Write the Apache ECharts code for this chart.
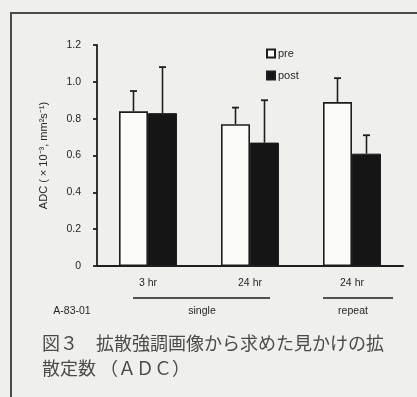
<!DOCTYPE html>
<html>
<head>
<meta charset="utf-8">
<script src="https://cdn.jsdelivr.net/npm/echarts@6/dist/echarts.min.js"></script>
<style>
  html, body { margin: 0; padding: 0; background: #efefeb; }
  #chart { width: 417px; height: 397px; }
</style>
</head>
<body>
<div id="chart"></div>
<script>
// ADC before and after A-83-01 administration
const categories = ['3 hr', '24 hr', '24 hr'];
const preValues = [0.84, 0.77, 0.89];
const preErrors = [0.11, 0.09, 0.13];
const postValues = [0.83, 0.67, 0.61];
const postErrors = [0.25, 0.23, 0.10];
const yTicks = [0, 0.2, 0.4, 0.6, 0.8, 1.0, 1.2];

const BAR_W = 29;
const INK = '#1e1e1e';
const TEXT = '#262626';
const SANS = 'Liberation Sans, Arial, sans-serif';

function errorSeries(name, values, errors, side) {
  return {
    type: 'custom',
    name: name + '-err',
    z: 5,
    data: values.map((v, i) => [i, v, v + errors[i]]),
    renderItem: function (params, api) {
      const base = api.coord([api.value(0), api.value(1)]);
      const top = api.coord([api.value(0), api.value(2)]);
      const x = base[0] + side * BAR_W / 2;
      const cap = 3.5;
      return {
        type: 'group',
        children: [
          { type: 'line', shape: { x1: x, y1: base[1], x2: x, y2: top[1] },
            style: { stroke: INK, lineWidth: 1.6 } },
          { type: 'line', shape: { x1: x - cap, y1: top[1], x2: x + cap, y2: top[1] },
            style: { stroke: INK, lineWidth: 1.8 } }
        ]
      };
    }
  };
}

function label(text, x, y) {
  return { type: 'text', x: x, y: y, style: { text: text, fill: TEXT, fontSize: 10.5,
    align: 'center', verticalAlign: 'middle', fontFamily: SANS } };
}

const chart = echarts.init(document.getElementById('chart'));
chart.setOption({
  backgroundColor: '#efefeb',
  animation: false,
  textStyle: { fontFamily: SANS },
  grid: { left: 97, right: 14, top: 45, bottom: 131 },
  legend: {
    data: ['pre', 'post'],
    orient: 'vertical',
    left: 261,
    top: 43,
    itemWidth: 8,
    itemHeight: 8,
    itemGap: 11,
    icon: 'rect',
    textStyle: { color: TEXT, fontSize: 11, padding: [0, 0, 0, -2] }
  },
  xAxis: {
    type: 'category',
    data: categories,
    axisLine: { lineStyle: { color: INK, width: 1.8 } },
    axisTick: { show: false },
    axisLabel: { color: TEXT, fontSize: 10.5, margin: 12 }
  },
  yAxis: {
    type: 'value',
    min: 0,
    max: 1.2,
    interval: 0.2,
    name: 'ADC ( \u00d7 10\u207b\u00b3, mm\u00b2s\u207b\u00b9)',
    nameLocation: 'middle',
    nameGap: 48,
    nameTextStyle: { color: TEXT, fontSize: 11 },
    splitLine: { show: false },
    axisLine: { show: true, lineStyle: { color: INK, width: 1.8 } },
    axisTick: { show: true, length: 4, lineStyle: { color: INK, width: 1.8 } },
    axisLabel: {
      color: TEXT, fontSize: 10.5, margin: 16,
      formatter: v => (yTicks.includes(+v.toFixed(1)) ? (v === 0 ? '0' : v.toFixed(1)) : '')
    }
  },
  series: [
    {
      name: 'pre', type: 'bar', data: preValues, barWidth: BAR_W, barGap: '0%',
      itemStyle: { color: '#fbfbf8', borderColor: INK, borderWidth: 1.6 }
    },
    {
      name: 'post', type: 'bar', data: postValues, barWidth: BAR_W,
      itemStyle: { color: '#151515', borderColor: INK, borderWidth: 1 }
    },
    errorSeries('pre', preValues, preErrors, -1),
    errorSeries('post', postValues, postErrors, 1)
  ],
  graphic: [
    { type: 'rect', silent: true, shape: { x: 11, y: 13, width: 430, height: 420 },
      style: { fill: 'none', stroke: '#4a4a4a', lineWidth: 2 } },
    { type: 'line', shape: { x1: 133, y1: 298, x2: 270, y2: 298 },
      style: { stroke: INK, lineWidth: 1.4 } },
    { type: 'line', shape: { x1: 323, y1: 298, x2: 393, y2: 298 },
      style: { stroke: INK, lineWidth: 1.4 } },
    label('single', 202, 311),
    label('repeat', 353, 311),
    label('A-83-01', 72, 311),
    { type: 'text', x: 42, y: 343, style: { text: '図３　拡散強調画像から求めた見かけの拡', fill: '#4a4a4a',
      fontSize: 18, verticalAlign: 'middle', fontFamily: 'Noto Sans CJK JP' } },
    { type: 'text', x: 42, y: 368, style: { text: '散定数 （ＡＤＣ）', fill: '#4a4a4a',
      fontSize: 18, verticalAlign: 'middle', fontFamily: 'Noto Sans CJK JP' } }
  ]
});
</script>
</body>
</html>
